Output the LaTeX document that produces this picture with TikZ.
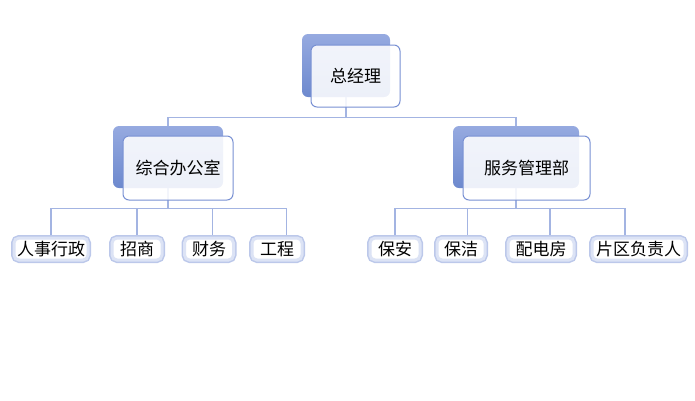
\documentclass[tikz,border=0pt]{standalone}
\usepackage{fontspec}
\setmainfont{Noto Sans CJK SC}
\usetikzlibrary{calc,backgrounds}
\definecolor{deepblue}{HTML}{6D89CE}
\definecolor{softblue}{HTML}{96AAE0}
\definecolor{frameblue}{HTML}{7890D3}
\definecolor{lineblue}{HTML}{A3B4E2}
\definecolor{glowout}{HTML}{BCC8EA}
\definecolor{glowin}{HTML}{DCE3F5}
\begin{document}
\begin{tikzpicture}[x=1pt, y=-1pt,
  back/.style={rounded corners=6pt, top color=softblue, bottom color=deepblue, inner sep=0pt},
  front/.style={draw=frameblue, line width=1pt, fill=white, fill opacity=0.88, draw opacity=1, text opacity=1, rounded corners=6pt, inner sep=0pt, font=\fontsize{17pt}{20pt}\selectfont},
  leaf/.style={fill=white, draw=glowin, line width=3pt, preaction={draw=glowout, line width=6pt}, rounded corners=5pt, inner sep=0pt, minimum height=22pt, font=\fontsize{17pt}{20pt}\selectfont},
  conn/.style={draw=lineblue, line width=1.2pt}]
  \useasboundingbox (0,0) rectangle (695,400);
  % 总经理
  \node[back, minimum width=88pt, minimum height=63pt] (zjl-bg) at (346,65.5) {};
  \node[front, minimum width=89pt, minimum height=62pt] (zjl) at (355.5,76) {总经理};
  % 两个部门
  \node[back, minimum width=110pt, minimum height=62pt] (zhb-bg) at (168,157) {};
  \node[front, minimum width=110pt, minimum height=64pt] (zhb) at (178,168) {综合办公室};
  \node[back, minimum width=126pt, minimum height=62pt] (fwb-bg) at (516,157) {};
  \node[front, minimum width=127pt, minimum height=64pt] (fwb) at (526.5,168) {服务管理部};
  % 综合办公室下属
  \node[leaf, minimum width=74pt] (rsxz) at (51,249) {人事行政};
  \node[leaf, minimum width=50pt] (zs) at (137,249) {招商};
  \node[leaf, minimum width=49pt] (cw) at (209,249) {财务};
  \node[leaf, minimum width=50pt] (gc) at (277,249) {工程};
  % 服务管理部下属
  \node[leaf, minimum width=50pt] (ba) at (395,249) {保安};
  \node[leaf, minimum width=48pt] (bj) at (461,249) {保洁};
  \node[leaf, minimum width=66pt] (pdf) at (541,249) {配电房};
  \node[leaf, minimum width=93pt] (pqfzr) at (638.5,249) {片区负责人};
  % 连线
  \begin{scope}[on background layer]
    \draw[conn] (zjl-bg.south) -- ++(0,20) -| (zhb-bg.north);
    \draw[conn] (zjl-bg.south) -- ++(0,20) -| (fwb-bg.north);
    \draw[conn] (zhb-bg.south) -- ++(0,20) -| (rsxz.north);
    \draw[conn] (zhb-bg.south) -- ++(0,20) -| (zs.north);
    \draw[conn] (zhb-bg.south) -- ++(0,20) -| ($(cw.north west)!.56!(cw.north east)$);
    \draw[conn] (zhb-bg.south) -- ++(0,20) -| ($(gc.north west)!.68!(gc.north east)$);
    \draw[conn] (fwb-bg.south) -- ++(0,20) -| (ba.north);
    \draw[conn] (fwb-bg.south) -- ++(0,20) -| ($(bj.north west)!.63!(bj.north east)$);
    \draw[conn] (fwb-bg.south) -- ++(0,20) -| ($(pdf.north west)!.63!(pdf.north east)$);
    \draw[conn] (fwb-bg.south) -- ++(0,20) -| ($(pqfzr.north west)!.36!(pqfzr.north east)$);
  \end{scope}
\end{tikzpicture}
\end{document}
